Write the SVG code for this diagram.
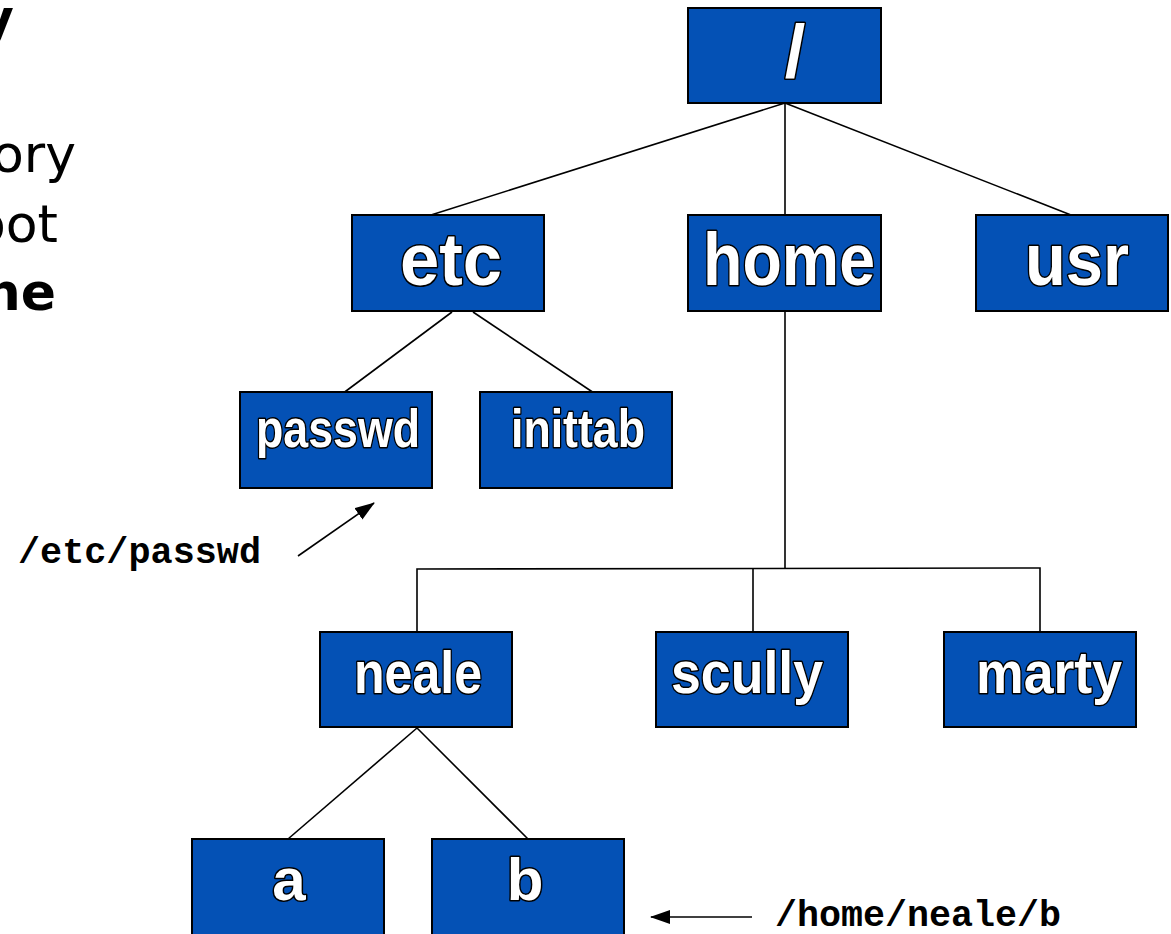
<svg xmlns="http://www.w3.org/2000/svg" width="1171" height="934" viewBox="0 0 1171 934">
<style>
.box{fill:#0451B5;stroke:#000;stroke-width:2}
.lbl{font-family:"Liberation Sans",Arial,sans-serif;font-weight:bold;fill:#fff;stroke:#000;stroke-width:3;paint-order:stroke;stroke-linejoin:round;text-anchor:middle}
.big{font-size:74px}
.mid{font-size:60px}
.sm{font-size:54px}
.conn line,.conn polyline{stroke:#000;stroke-width:1.6;fill:none}
.path{font-family:"Liberation Mono","Courier New",monospace;font-weight:bold;font-size:36px;fill:#000}
.side{font-family:"DejaVu Sans",Verdana,sans-serif;font-size:52px;fill:#000;text-anchor:end}
</style>
<defs>
<marker id="ah2" viewBox="0 0 20 14" refX="19" refY="7" markerWidth="20" markerHeight="14" markerUnits="userSpaceOnUse" orient="auto">
<path d="M0,0 L20,7 L0,14 z" fill="#000"/>
</marker>
</defs>
<rect width="1171" height="934" fill="#fff"/>
<g id="side-text">
<text class="side" x="14" y="36" font-weight="bold">y</text>
<text class="side" x="76" y="172">ory</text>
<text class="side" x="58" y="242">oot</text>
<text class="side" x="56" y="310" font-weight="bold">ne</text>
</g>
<g class="conn" id="connectors">
<line x1="785" y1="103" x2="431" y2="215"/>
<line x1="785" y1="103" x2="785" y2="215"/>
<line x1="785" y1="103" x2="1071" y2="215"/>
<line x1="452" y1="312" x2="338" y2="397"/>
<line x1="473" y1="312" x2="597" y2="395"/>
<line x1="785" y1="311" x2="785" y2="568"/>
<polyline points="417,632 417,569 1040,568 1040,632"/>
<line x1="753" y1="568" x2="753" y2="632"/>
<line x1="417" y1="728" x2="288" y2="839"/>
<line x1="417" y1="728" x2="528" y2="839"/>
<line x1="298" y1="556" x2="374" y2="503" marker-end="url(#ah2)"/>
<line x1="752" y1="917" x2="651" y2="917" marker-end="url(#ah2)"/>
</g>
<g id="node-root"><rect class="box" x="688" y="8" width="193" height="95"/><text class="lbl big" x="795" y="77">/</text></g>
<g id="node-etc"><rect class="box" x="352" y="215" width="192" height="96"/><text class="lbl big" x="451" y="285" textLength="102" lengthAdjust="spacingAndGlyphs">etc</text></g>
<g id="node-home"><rect class="box" x="688" y="215" width="193" height="96"/><text class="lbl big" x="789" y="285" textLength="172" lengthAdjust="spacingAndGlyphs">home</text></g>
<g id="node-usr"><rect class="box" x="976" y="215" width="192" height="96"/><text class="lbl big" x="1077" y="285" textLength="104" lengthAdjust="spacingAndGlyphs">usr</text></g>
<g id="node-passwd"><rect class="box" x="240" y="392" width="192" height="96"/><text class="lbl sm" x="338" y="447" textLength="164" lengthAdjust="spacingAndGlyphs">passwd</text></g>
<g id="node-inittab"><rect class="box" x="480" y="392" width="192" height="96"/><text class="lbl sm" x="578" y="447" textLength="134" lengthAdjust="spacingAndGlyphs">inittab</text></g>
<g id="node-neale"><rect class="box" x="320" y="632" width="192" height="95"/><text class="lbl mid" x="418" y="693" textLength="128" lengthAdjust="spacingAndGlyphs">neale</text></g>
<g id="node-scully"><rect class="box" x="656" y="632" width="192" height="95"/><text class="lbl mid" x="747" y="693" textLength="152" lengthAdjust="spacingAndGlyphs">scully</text></g>
<g id="node-marty"><rect class="box" x="944" y="632" width="192" height="95"/><text class="lbl mid" x="1049" y="693" textLength="146" lengthAdjust="spacingAndGlyphs">marty</text></g>
<g id="node-a"><rect class="box" x="192" y="839" width="192" height="100"/><text class="lbl mid" x="289" y="900">a</text></g>
<g id="node-b"><rect class="box" x="432" y="839" width="192" height="100"/><text class="lbl mid" x="525" y="900">b</text></g>
<g id="labels">
<text class="path" x="18" y="563" textLength="243" lengthAdjust="spacingAndGlyphs">/etc/passwd</text>
<text class="path" x="775" y="926" textLength="286" lengthAdjust="spacingAndGlyphs">/home/neale/b</text>
</g>
</svg>
